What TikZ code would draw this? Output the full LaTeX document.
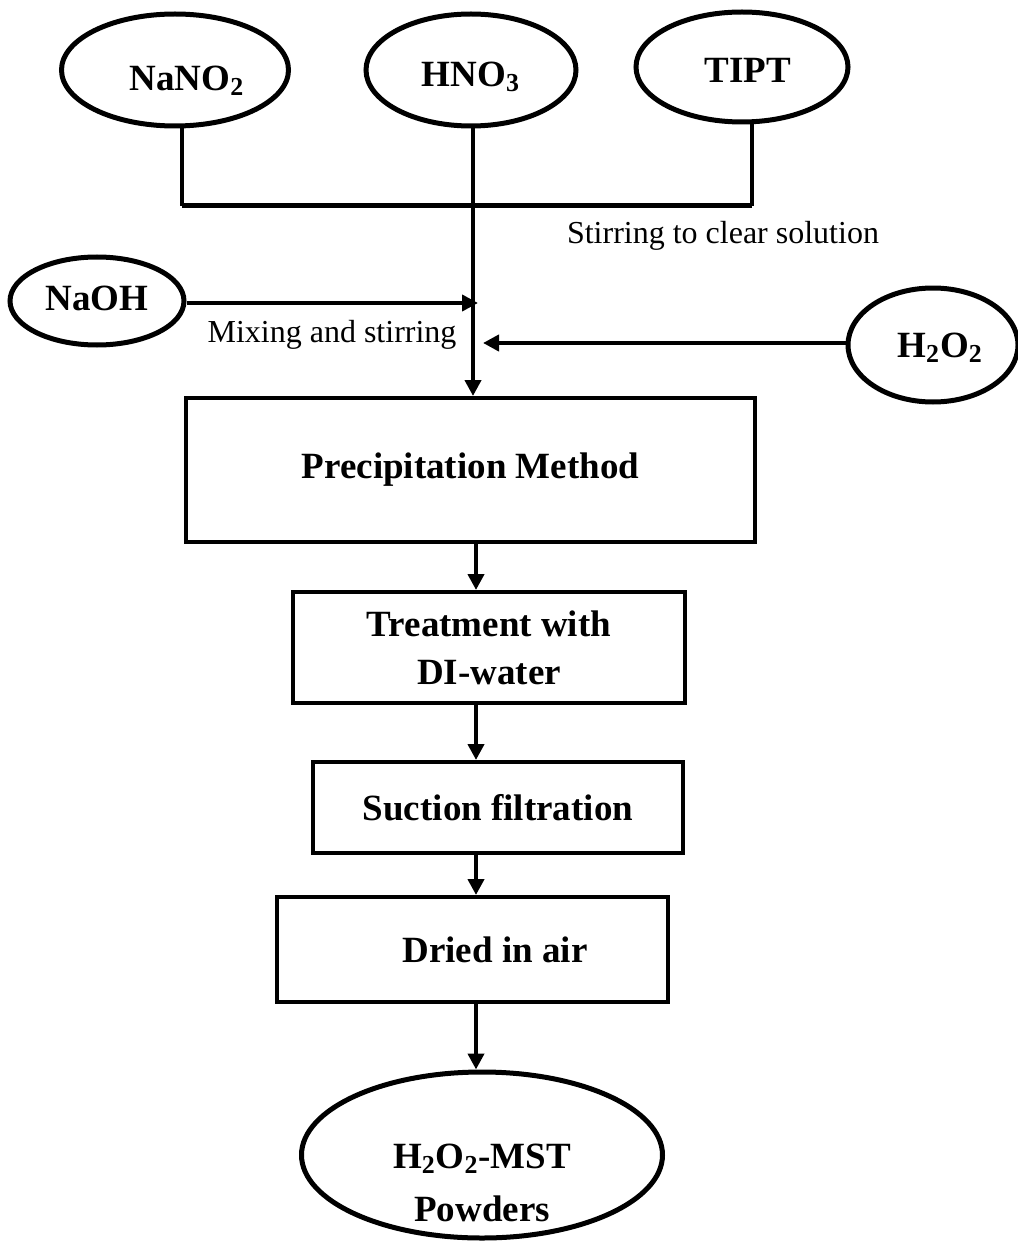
\documentclass[tikz,border=0pt]{standalone}
\usepackage{fontspec}
\setmainfont{Liberation Serif}
\usetikzlibrary{shapes.geometric,arrows.meta}
\begin{document}
\begin{tikzpicture}[x=0.5pt,y=-0.5pt,
  big/.style={font=\fontsize{18.5}{24}\selectfont\bfseries, align=center},
  small/.style={font=\fontsize{16}{19}\selectfont},
  oval/.style={ellipse, draw, line width=2.5pt, inner sep=0pt, big},
  stepbox/.style={rectangle, draw, line width=2pt, inner sep=0pt, big},
  conn/.style={line width=2pt},
  arr/.style={line width=2pt, -{Triangle[length=8pt,width=8pt]}}]
\useasboundingbox (0,0) rectangle (1017,1241);
% top ellipses
\node[oval, minimum width=113.5pt, minimum height=56pt,
  label={[big,xshift=6pt,yshift=-5.5pt]center:NaNO\textsubscript{2}}] (nano) at (175,70) {};
\node[oval, minimum width=105pt, minimum height=56pt,
  label={[big,yshift=-3.5pt]center:HNO\textsubscript{3}}] (hno) at (471,70) {};
\node[oval, minimum width=106pt, minimum height=55pt,
  label={[big,xshift=3pt,yshift=-1.5pt]center:TIPT}] (tipt) at (742,67) {};
\node[oval, minimum width=87pt, minimum height=44pt,
  label={[big,yshift=1.5pt]center:NaOH}] (naoh) at (97,301) {};
\node[oval, minimum width=85pt, minimum height=57pt,
  label={[big,xshift=3.5pt,yshift=-1.5pt]center:H\textsubscript{2}O\textsubscript{2}}] (h2o2) at (933,345) {};
% boxes
\node[stepbox, minimum width=284.5pt, minimum height=72pt] (precip) at (470.5,470) {Precipitation Method};
\node[stepbox, minimum width=196pt, minimum height=55.5pt] (treat) at (489,647.5) {Treatment with\\DI-water};
\node[stepbox, minimum width=185pt, minimum height=45.5pt] (suct) at (498,807.5) {Suction filtration};
\node[stepbox, minimum width=195.5pt, minimum height=52.5pt] (dried) at (472.5,949.5) {\hspace*{22.5pt}Dried in air};
\node[oval, minimum width=180.5pt, minimum height=83pt,
  label={[font=\fontsize{18.5}{26.5}\selectfont\bfseries, align=center, yshift=-14pt]center:H\textsubscript{2}O\textsubscript{2}-MST\\Powders}] (prod) at (482,1155) {};
% labels
\node[small] (lab1) at (723,236) {Stirring to clear solution};
\node[small] (lab2) at (332,335) {Mixing and stirring};
% junction
\coordinate (jl) at (182,206);
\coordinate (jr) at (752,206);
\coordinate (ax) at (473,0);
\coordinate (bx) at (476,0);
\coordinate (m1) at (478,303);
\coordinate (m2) at (483,343);
\draw[conn] (jl |- nano.south) -- (jl);
\draw[conn] (jr |- tipt.south) -- (jr);
\draw[line width=2.5pt] (jl) -- (jr);
\draw[arr] (ax |- hno.south) -- (ax |- precip.north);
\draw[arr] (naoh.east |- m1) -- (m1);
\draw[arr] (h2o2.west |- m2) -- (m2);
\draw[arr] (bx |- precip.south) -- (bx |- treat.north);
\draw[arr] (bx |- treat.south) -- (bx |- suct.north);
\draw[arr] (bx |- suct.south) -- (bx |- dried.north);
\draw[arr] (bx |- dried.south) -- (bx |- prod.north);
\end{tikzpicture}
\end{document}
